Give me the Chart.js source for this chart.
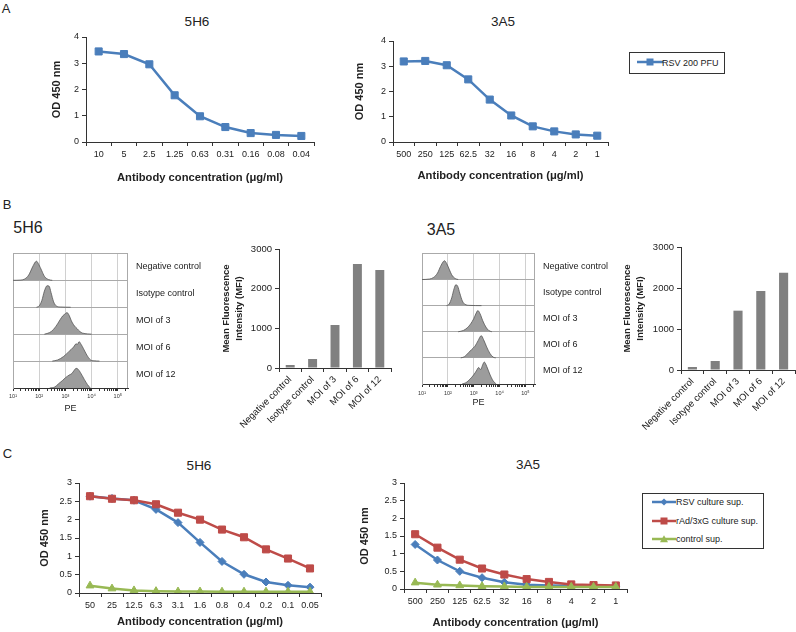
<!DOCTYPE html>
<html><head><meta charset="utf-8">
<script src="https://cdn.jsdelivr.net/npm/chart.js@4.4.0/dist/chart.umd.min.js"></script>
<style>
body{margin:0;background:#fff;}
#fig{position:relative;width:796px;height:632px;overflow:hidden;background:#fff;font-family:"Liberation Sans",Arial,Helvetica,sans-serif;color:#222;}
canvas{position:absolute;}
.t{position:absolute;transform:translate(-50%,-50%);line-height:1;white-space:nowrap;}
.lg{position:absolute;border:1px solid #333;box-sizing:border-box;background:#fff;}
.lg div{position:absolute;font-size:9px;line-height:1;transform:translateY(-50%);white-space:nowrap;}
.lg svg{position:absolute;}
</style></head>
<body><div id="fig">
<div class="t" style="left:6px;top:7.5px;font-size:13px">A</div>
<div class="t" style="left:7px;top:204px;font-size:13px">B</div>
<div class="t" style="left:7.5px;top:453px;font-size:13px">C</div>
<div class="t" style="left:197px;top:21.5px;font-size:13.5px">5H6</div>
<div class="t" style="left:503px;top:22px;font-size:13.5px">3A5</div>
<div class="t" style="left:28px;top:228px;font-size:16px">5H6</div>
<div class="t" style="left:441px;top:230px;font-size:16px">3A5</div>
<div class="t" style="left:199px;top:466px;font-size:13.5px">5H6</div>
<div class="t" style="left:528px;top:465px;font-size:13.5px">3A5</div>

<canvas id="cA1" width="274" height="163" style="left:46px;top:27px"></canvas>
<canvas id="cA2" width="265" height="155" style="left:349px;top:31px"></canvas>
<canvas id="cH1" width="198" height="174" style="left:5px;top:240px"></canvas>
<canvas id="cH2" width="196" height="168" style="left:414px;top:240px"></canvas>
<canvas id="cB1" width="201" height="190" style="left:196px;top:240px"></canvas>
<canvas id="cB2" width="199" height="194" style="left:597px;top:238px"></canvas>
<canvas id="cC1" width="293" height="162" style="left:34px;top:470px"></canvas>
<canvas id="cC2" width="279" height="162" style="left:354px;top:470px"></canvas>

<div class="lg" style="left:629px;top:52px;width:96px;height:22px">
  <svg style="left:6px;top:3px" width="28" height="12"><line x1="1" y1="6" x2="27" y2="6" stroke="#4A7EBB" stroke-width="2.5"/><rect x="10.5" y="2.5" width="7" height="7" fill="#4A7EBB"/></svg>
  <div style="left:32px;top:50%">RSV 200 PFU</div>
</div>
<div class="lg" style="left:642px;top:493px;width:122px;height:56px">
  <svg style="left:9px;top:2.3px" width="24" height="12"><line x1="0" y1="6" x2="24" y2="6" stroke="#4A7EBB" stroke-width="2.5"/><polygon points="12,2.5 15.5,6 12,9.5 8.5,6" fill="#4A7EBB"/></svg>
  <div style="left:33px;top:8.3px">RSV culture sup.</div>
  <svg style="left:9px;top:20.7px" width="24" height="12"><line x1="0" y1="6" x2="24" y2="6" stroke="#BE4B48" stroke-width="2.5"/><rect x="8.5" y="2.5" width="7" height="7" fill="#BE4B48"/></svg>
  <div style="left:33px;top:26.7px">rAd/3xG culture sup.</div>
  <svg style="left:9px;top:39px" width="24" height="12"><line x1="0" y1="6" x2="24" y2="6" stroke="#98B954" stroke-width="2.5"/><polygon points="12,2.2 16,9.2 8,9.2" fill="#98B954"/></svg>
  <div style="left:33px;top:45px">control sup.</div>
</div>
</div>
<script>
// ---------- DATA ----------
const concA1 = ['10','5','2.5','1.25','0.63','0.31','0.16','0.08','0.04'];
const odA1   = [3.45,3.35,2.96,1.78,0.98,0.57,0.34,0.27,0.23];
const concA2 = ['500','250','125','62.5','32','16','8','4','2','1'];
const odA2   = [3.19,3.21,3.04,2.48,1.68,1.05,0.62,0.42,0.30,0.25];

const mfiLabels = ['Negative control','Isotype control','MOI of 3','MOI of 6','MOI of 12'];
const mfi5H6 = [76,227,1084,2622,2470];
const mfi3A5 = [73,220,1447,1927,2374];

const peDecades = [10,100,1000,10000,100000];
const peDecadeLabels = ['10\u00B9','10\u00B2','10\u00B3','10\u2074','10\u2075'];

// flow histograms (PE intensity, relative count per row)
const pe5H6Neg = [10,20,28,40,56,71,79,95,126,158,224,316];
const ct5H6Neg = [0,0.01,0.05,0.2,0.5,0.68,0.71,0.6,0.35,0.15,0.03,0];
const pe5H6Iso = [79,100,126,158,200,240,282,355,447,631,1585];
const ct5H6Iso = [0,0.05,0.25,0.6,0.8,0.78,0.55,0.2,0.05,0.01,0];
const pe5H6M3  = [158,251,355,501,631,794,1000,1148,1318,1778,2239,2818,3548,4467,7079,10000];
const ct5H6M3  = [0,0.06,0.18,0.38,0.54,0.68,0.76,0.8,0.74,0.45,0.3,0.2,0.1,0.04,0.01,0];
const pe5H6M6  = [316,501,851,1318,2042,2570,2884,3311,3981,4898,6607,8913,12589,19953];
const ct5H6M6  = [0,0.04,0.17,0.34,0.52,0.64,0.62,0.72,0.62,0.46,0.22,0.05,0.01,0];
const pe5H6M12 = [251,398,550,759,1000,1445,1778,2138,2570,3020,3715,5248,6918,8913];
const ct5H6M12 = [0,0.04,0.16,0.27,0.38,0.49,0.54,0.65,0.73,0.7,0.58,0.32,0.13,0];

const pe3A5Neg = [10,20,28,40,52,66,74,89,112,141,191,251];
const ct3A5Neg = [0,0.02,0.08,0.25,0.5,0.68,0.72,0.62,0.4,0.18,0.04,0];
const pe3A5Iso = [89,112,141,174,204,240,288,363,457,708,1995];
const ct3A5Iso = [0,0.06,0.3,0.65,0.8,0.74,0.48,0.18,0.05,0.01,0];
const pe3A5M3  = [251,398,562,759,1000,1202,1445,1738,2239,2951,3802,5012];
const ct3A5M3  = [0,0.05,0.15,0.3,0.5,0.68,0.81,0.7,0.42,0.18,0.05,0];
const pe3A5M6  = [316,447,631,832,1122,1479,1950,2399,3162,4169,5623,7079];
const ct3A5M6  = [0,0.05,0.2,0.32,0.45,0.66,0.85,0.7,0.42,0.18,0.03,0];
const pe3A5M12 = [355,501,708,1000,1259,1549,1862,2188,2570,3162,4169,5623,7413];
const ct3A5M12 = [0,0.05,0.18,0.35,0.5,0.63,0.55,0.72,0.84,0.68,0.38,0.12,0];

const concC1 = ['50','25','12.5','6.3','3.1','1.6','0.8','0.4','0.2','0.1','0.05'];
const rsvC1  = [2.64,2.58,2.53,2.28,1.92,1.38,0.86,0.51,0.30,0.21,0.16];
const radC1  = [2.64,2.57,2.53,2.42,2.19,2.00,1.73,1.52,1.19,0.94,0.67];
const ctlC1  = [0.20,0.12,0.07,0.05,0.04,0.04,0.035,0.035,0.035,0.035,0.035];
const concC2 = ['500','250','125','62.5','32','16','8','4','2','1'];
const rsvC2  = [1.26,0.82,0.50,0.32,0.19,0.12,0.10,0.09,0.09,0.08];
const radC2  = [1.55,1.17,0.83,0.58,0.41,0.28,0.20,0.13,0.11,0.10];
const ctlC2  = [0.18,0.12,0.10,0.08,0.07,0.06,0.06,0.06,0.06,0.06];

// ---------- STYLE ----------
Chart.defaults.font.family = "'Liberation Sans', Arial, Helvetica, sans-serif";
Chart.defaults.color = '#222';
const AX = '#333';
const BLUE = '#4A7EBB', RED = '#BE4B48', GREEN = '#98B954';
const fixW = w => s => { s.width = w; };
const fixH = h => s => { s.height = h; };
const plain = v => String(Math.round(v * 100) / 100);
const base = {responsive:false, animation:false, devicePixelRatio:1,
  plugins:{legend:{display:false}, tooltip:{enabled:false}}};

function lineChart(id, labels, datasets, o) {
  return new Chart(document.getElementById(id), {
    type:'line',
    data:{labels, datasets},
    options:Object.assign({}, base, {
      layout:{padding:{top:o.padTop, right:4, bottom:0, left:0}},
      scales:{
        x:{offset:true,
           grid:{offset:true, drawOnChartArea:false, tickLength:4, color:AX},
           border:{color:AX},
           ticks:{font:{size:9}, padding:3, maxRotation:0, autoSkip:false},
           title:{display:true, text:'Antibody concentration (\u03BCg/ml)', font:{size:11.2, weight:'bold'}, padding:{top:0, bottom:o.titlePadB}},
           afterFit:fixH(o.xH)},
        y:{min:0, max:o.yMax,
           ticks:{stepSize:o.step, font:{size:9}, padding:3, callback:plain},
           grid:{drawOnChartArea:false, tickLength:4, color:AX},
           border:{color:AX},
           title:{display:true, text:'OD 450 nm', font:{size:11, weight:'bold'}, padding:{top:4, bottom:0}},
           afterFit:fixW(o.yW)}
      }
    })
  });
}
function series(data, color, style, r, order) {
  return {data, borderColor:color, backgroundColor:color, pointBackgroundColor:color, pointBorderColor:color,
    borderWidth:2.5, pointStyle:style, pointRadius:r, pointBorderWidth:1, tension:0, order};
}

// Panel A
lineChart('cA1', concA1, [series(odA1, BLUE, 'rect', 5, 0)], {padTop:10, xH:48, yW:40, yMax:4, step:1, titlePadB:5});
lineChart('cA2', concA2, [series(odA2, BLUE, 'rect', 5, 0)], {padTop:10, xH:44, yW:44, yMax:4, step:1, titlePadB:3.6});

// Panel C
lineChart('cC1', concC1, [series(rsvC1, BLUE, 'rectRot', 4, 2), series(radC1, RED, 'rect', 5, 1), series(ctlC1, GREEN, 'triangle', 4.5, 0)],
  {padTop:13, xH:39, yW:45, yMax:3, step:0.5, titlePadB:3});
lineChart('cC2', concC2, [series(rsvC2, BLUE, 'rectRot', 4, 2), series(radC2, RED, 'rect', 5, 1), series(ctlC2, GREEN, 'triangle', 4.5, 0)],
  {padTop:13, xH:43, yW:50, yMax:3, step:0.5, titlePadB:2});

// Panel B bar charts
function barChart(id, values, yW, padRight) {
  return new Chart(document.getElementById(id), {
    type:'bar',
    data:{labels:mfiLabels, datasets:[{data:values, backgroundColor:'#808080', barPercentage:0.4, categoryPercentage:1}]},
    options:Object.assign({}, base, {
      layout:{padding:{top:9, right:padRight, bottom:0, left:0}},
      scales:{
        x:{grid:{offset:true, drawOnChartArea:false, tickLength:4, color:AX}, border:{color:AX},
           ticks:{minRotation:45, maxRotation:45, font:{size:9.5}, padding:2, autoSkip:false},
           afterFit:fixH(62)},
        y:{min:0, max:3000, ticks:{stepSize:1000, font:{size:9.5}, padding:3, callback:plain},
           grid:{drawOnChartArea:false, tickLength:4, color:AX}, border:{color:AX},
           title:{display:true, text:['Mean Fluorescence','Intensity (MFI)'], font:{size:9.5, weight:'bold', lineHeight:1.35}, padding:{top:24, bottom:0}},
           afterFit:fixW(yW)}
      }
    })
  });
}
barChart('cB1', mfi5H6, 83, 6);
barChart('cB2', mfi3A5, 84, 1);

// Panel B flow histograms
const isDecade = v => Math.abs(Math.log10(v) - Math.round(Math.log10(v))) < 1e-9;
function peTicks(max) {
  const t = [];
  peDecades.forEach(d => { for (let m = 1; m <= 9; m++) { if (d * m <= max) t.push(d * m); } });
  return t;
}
const rightEdge = {id:'rightEdge', afterDatasetsDraw(chart) {
  const {ctx, chartArea:a} = chart;
  ctx.save(); ctx.strokeStyle = '#aaa'; ctx.lineWidth = 1;
  ctx.beginPath(); ctx.moveTo(Math.round(a.right) - 0.5, a.top); ctx.lineTo(Math.round(a.right) - 0.5, a.bottom); ctx.stroke();
  ctx.restore();
}};
function histChart(id, rows, maxPE, xH, tickPad) {
  const n = rows.length;
  const datasets = rows.map((r, i) => {
    const b = n - 1 - i;
    return {data:r[0].map((x, k) => ({x, y:b + r[1][k]})), yAxisID:'y', fill:{value:b},
      backgroundColor:'#9c9c9c', borderColor:'#555', borderWidth:0.8, pointRadius:0,
      cubicInterpolationMode:'monotone'};
  });
  return new Chart(document.getElementById(id), {
    type:'line',
    data:{datasets},
    options:Object.assign({}, base, {
      layout:{padding:{top:5, right:0, bottom:0, left:0}},
      scales:{
        x:{type:'logarithmic', min:10, max:maxPE,
           afterBuildTicks:s => { s.ticks = peTicks(maxPE).map(v => ({value:v, major:isDecade(v)})); },
           ticks:{autoSkip:false, maxRotation:0, font:{size:5.5}, padding:tickPad, color:'#333',
                  callback:v => isDecade(v) ? peDecadeLabels[Math.round(Math.log10(v)) - 1] : ''},
           grid:{color:c => (c.tick && isDecade(c.tick.value)) ? '#d0d0d0' : 'rgba(0,0,0,0)', tickColor:'#333', tickLength:3},
           border:{color:'#333'},
           title:{display:true, text:'PE', font:{size:9}, padding:{top:0, bottom:0}},
           afterFit:fixH(xH)},
        y:{min:0, max:n, ticks:{display:false, stepSize:1}, grid:{color:'#aaa', drawTicks:false}, border:{color:'#aaa'},
           afterFit:fixW(8)},
        yr:{type:'linear', position:'right', min:0, max:n,
           afterBuildTicks:s => { s.ticks = mfiLabels.map((_, i) => ({value:n - 1 - i + 0.5})); },
           ticks:{font:{size:9}, padding:8, callback:v => mfiLabels[n - 1 - Math.floor(v)]},
           grid:{display:false, drawTicks:false}, border:{display:false},
           afterFit:fixW(75)}
      }
    }),
    plugins:[rightEdge]
  });
}
histChart('cH1', [[pe5H6Neg, ct5H6Neg], [pe5H6Iso, ct5H6Iso], [pe5H6M3, ct5H6M3], [pe5H6M6, ct5H6M6], [pe5H6M12, ct5H6M12]], 245000, 26, 2.5);
histChart('cH2', [[pe3A5Neg, ct3A5Neg], [pe3A5Iso, ct3A5Iso], [pe3A5M3, ct3A5M3], [pe3A5M6, ct3A5M6], [pe3A5M12, ct3A5M12]], 234000, 24, 3);
</script>
</body></html>
